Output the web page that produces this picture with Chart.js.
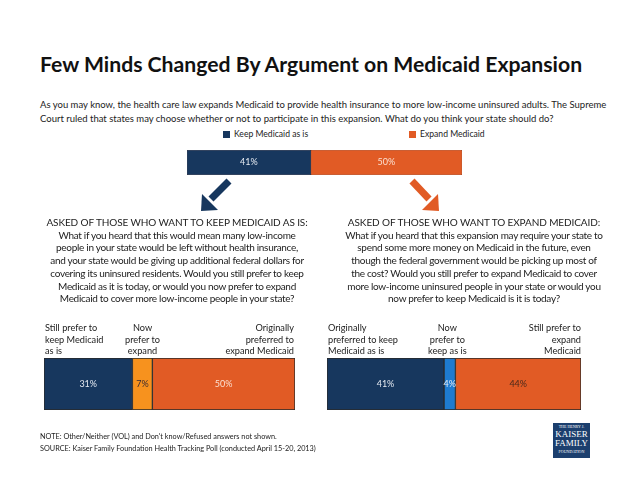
<!DOCTYPE html>
<html>
<head>
<meta charset="utf-8">
<script src="https://cdn.jsdelivr.net/npm/chart.js@4.4.1/dist/chart.umd.min.js"></script>
<style>
  body { margin: 0; background: #fff; font-family: Lato, "Open Sans", sans-serif; color: #222; }
  #page { position: relative; width: 638px; height: 493px; overflow: hidden; }
  .abs { position: absolute; white-space: nowrap; }
  #title { left: 40px; top: 51px; font-size: 21.2px; font-weight: bold; color: #111; }
  .sub { left: 40px; font-size: 9.5px; color: #222; }
  .legend { top: 129px; font-size: 8.6px; }
  .legend span { display: inline-block; width: 7px; height: 7px; margin-right: 4px; vertical-align: -0.5px; }
  .block { text-align: center; font-size: 10px; letter-spacing: -0.3px; line-height: 12.7px; }
  .block .hd { letter-spacing: -0.1px; }
  .lab { font-size: 9.2px; line-height: 11.7px; }
  .note { left: 40px; font-size: 7.3px; color: #222; }
  #logo { left: 553px; top: 423px; width: 37px; height: 35px; background: #1c3f6e; color: #fff; text-align: center;
          font-family: "Liberation Serif", serif; line-height: 9px; }
</style>
</head>
<body>
<div id="page">
  <div id="title" class="abs">Few Minds Changed By Argument on Medicaid Expansion</div>
  <div class="abs sub" style="top:99px">As you may know, the health care law expands Medicaid to provide health insurance to more low-income uninsured adults. The Supreme</div>
  <div class="abs sub" style="top:113px">Court ruled that states may choose whether or not to participate in this expansion. What do you think your state should do?</div>
  <div class="abs legend" style="left:223px"><span style="background:#17375e"></span>Keep Medicaid as is</div>
  <div class="abs legend" style="left:409px"><span style="background:#e15b25"></span>Expand Medicaid</div>

  <canvas id="topBar" class="abs" style="left:187px;top:150px;width:275px;height:25px"></canvas>

  <svg class="abs" style="left:0;top:0" width="638" height="493">
    <line x1="229" y1="181" x2="211" y2="199" stroke="#17375e" stroke-width="7"/>
    <polygon points="201,211 202,194 218,210" fill="#17375e"/>
    <line x1="412" y1="181" x2="429" y2="199" stroke="#e15b25" stroke-width="7"/>
    <polygon points="439,211 438,194 422,210" fill="#e15b25"/>
  </svg>

  <div class="abs block" style="left:27px;top:216px;width:300px"><span class="hd">ASKED OF THOSE WHO WANT TO KEEP MEDICAID AS IS:</span><br>What if you heard that this would mean many low-income<br>people in your state would be left without health insurance,<br>and your state would be giving up additional federal dollars for<br>covering its uninsured residents. Would you still prefer to keep<br>Medicaid as it is today, or would you now prefer to expand<br>Medicaid to cover more low-income people in your state?</div>
  <div class="abs block" style="left:324px;top:216px;width:300px"><span class="hd">ASKED OF THOSE WHO WANT TO EXPAND MEDICAID:</span><br>What if you heard that this expansion may require your state to<br>spend some more money on Medicaid in the future, even<br>though the federal government would be picking up most of<br>the cost? Would you still prefer to expand Medicaid to cover<br>more low-income uninsured people in your state or would you<br>now prefer to keep Medicaid is it is today?</div>

  <div class="abs lab" style="left:45px;top:322px">Still prefer to<br>keep Medicaid<br>as is</div>
  <div class="abs lab" style="left:125px;top:322px;text-align:center">Now<br>prefer to<br>expand</div>
  <div class="abs lab" style="right:344px;top:322px;text-align:right">Originally<br>preferred to<br>expand Medicaid</div>
  <canvas id="leftBar" class="abs" style="left:44px;top:358px;width:251px;height:52px"></canvas>

  <div class="abs lab" style="left:328px;top:322px">Originally<br>preferred to keep<br>Medicaid as is</div>
  <div class="abs lab" style="left:428px;top:322px;text-align:center">Now<br>prefer to<br>keep as is</div>
  <div class="abs lab" style="right:57px;top:322px;text-align:right">Still prefer to<br>expand<br>Medicaid</div>
  <canvas id="rightBar" class="abs" style="left:327px;top:358px;width:254px;height:52px"></canvas>

  <div class="abs note" style="top:432px">NOTE: Other/Neither (VOL) and Don't know/Refused answers not shown.</div>
  <div class="abs note" style="top:444px">SOURCE: Kaiser Family Foundation Health Tracking Poll (conducted April 15-20, 2013)</div>
  <div id="logo" class="abs"><div style="font-size:4px;line-height:7px">THE HENRY J.</div><div style="font-size:9px">KAISER</div><div style="font-size:9px">FAMILY</div><div style="font-size:4px;line-height:7px">FOUNDATION</div></div>
</div>

<script>
// values
var topCats = ['Keep Medicaid as is', 'Expand Medicaid'];
var topVals = [41, 50];

var leftCats = ['Still prefer to keep Medicaid as is', 'Now prefer to expand', 'Originally preferred to expand Medicaid'];
var leftVals = [31, 7, 50];

var rightCats = ['Originally preferred to keep Medicaid as is', 'Now prefer to keep as is', 'Still prefer to expand Medicaid'];
var rightVals = [41, 4, 44];

// draws the % inside each segment
var segLabels = {
    id: 'segLabels',
    afterDatasetsDraw: function (chart) {
        var ctx = chart.ctx;
        ctx.save();
        ctx.font = '9px Lato, sans-serif';
        ctx.textAlign = 'center';
        ctx.textBaseline = 'middle';
        chart.data.datasets.forEach(function (ds, i) {
            var bar = chart.getDatasetMeta(i).data[0];
            var cx = (bar.x + bar.base) / 2;
            ctx.fillStyle = ds.labelColor;
            ctx.fillText(ds.data[0] + '%', cx, bar.y);
        });
        ctx.restore();
    }
};

function stackBar(id, cats, vals, colors, labelColors, border, bw) {
    var total = vals.reduce(function (a, b) { return a + b; }, 0);
    var ctx = document.getElementById(id).getContext('2d');
    return new Chart(ctx, {
        type: 'bar',
        data: {
            labels: [''],
            datasets: cats.map(function (c, i) {
                return {
                    label: c,
                    data: [vals[i]],
                    backgroundColor: colors[i],
                    borderColor: border,
                    borderWidth: bw,
                    borderSkipped: false,
                    labelColor: labelColors[i],
                    barPercentage: 1,
                    categoryPercentage: 1
                };
            })
        },
        options: {
            indexAxis: 'y',
            responsive: false,
            animation: false,
            events: [],
            layout: { padding: 0 },
            plugins: { legend: { display: false }, tooltip: { enabled: false } },
            scales: {
                x: { stacked: true, display: false, min: 0, max: total },
                y: { stacked: true, display: false }
            }
        },
        plugins: [segLabels]
    });
}

function sizeCanvas(id) {
    var c = document.getElementById(id);
    c.width = parseInt(c.style.width);
    c.height = parseInt(c.style.height);
}
['topBar', 'leftBar', 'rightBar'].forEach(sizeCanvas);

stackBar('topBar', topCats, topVals, ['#17375e', '#e15b25'], ['#e4e9f0', '#fbe0d2'], '#5a3a30', 0.5);
stackBar('leftBar', leftCats, leftVals, ['#17375e', '#f7921e', '#e15b25'], ['#e4e9f0', '#3a2a30', '#fbe0d2'], '#2a2a2a', 1);
stackBar('rightBar', rightCats, rightVals, ['#17375e', '#1e7bd0', '#e15b25'], ['#e4e9f0', '#e4e9f0', '#4a2a1c'], '#2a2a2a', 1);
</script>
</body>
</html>
